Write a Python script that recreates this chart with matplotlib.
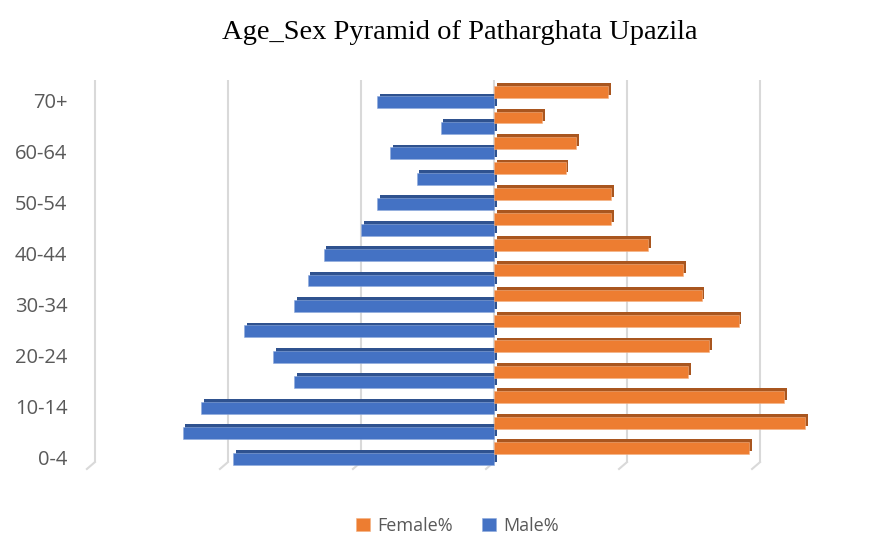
import matplotlib.pyplot as plt
import numpy as np

ages = ['0-4', '5-9', '10-14', '15-19', '20-24', '25-29', '30-34', '35-39',
        '40-44', '45-49', '50-54', '55-59', '60-64', '65-69', '70+']
male = [9.8, 11.7, 11.0, 7.5, 8.3, 9.4, 7.5, 7.0, 6.4, 5.0, 4.4, 2.9, 3.9, 2.0, 4.4]
female = [9.6, 11.7, 10.9, 7.3, 8.1, 9.2, 7.8, 7.1, 5.8, 4.4, 4.4, 2.7, 3.1, 1.8, 4.3]

orange, orange_dk = '#ED7D31', '#A9561F'
blue, blue_dk = '#4472C4', '#2F528F'
grey = '#595959'

fig = plt.figure(figsize=(8.8, 5.35), dpi=100)
ax = fig.add_axes([0.0909, 0.1121, 0.8523, 0.7477])

y = np.arange(len(ages))
h = 0.47
dx, dy = 0.1, 0.11  # fake 3d depth

# back wall gridlines with little floor ticks
grid = [-15, -10, -5, 0, 5, 10]
ax.vlines(grid, -0.2, 14.83, color='#D9D9D9', lw=1.5, zorder=0)
for g in grid:
    ax.plot([g, g - 0.3], [-0.2, -0.47], color='#D9D9D9', lw=1.5, clip_on=False, zorder=0)

m = -np.array(male)
f = np.array(female)
# depth faces first, then the fronts
ax.barh(y - 0.06 + dy, m, height=h, left=dx, color=blue_dk, zorder=2)
ax.barh(y + 0.35 + dy, f, height=h, left=dx, color=orange_dk, zorder=2)
ax.barh(y - 0.06, m, height=h, color=blue, edgecolor='#8FAADC', lw=0.4, zorder=3, label='Male%')
ax.barh(y + 0.35, f, height=h, color=orange, edgecolor='#F4B183', lw=0.4, zorder=3, label='Female%')

ax.set_xlim(-15.56, 12.63)
ax.set_ylim(-0.708, 15.02)
ax.set_xticks([])
ax.set_yticks(y[::2])
ax.set_yticklabels(ages[::2], fontsize=14.5, color=grey, family='Open Sans')
ax.tick_params(axis='y', length=0, pad=9)
for s in ax.spines.values():
    s.set_visible(False)

fig.suptitle('Age_Sex Pyramid of Patharghata Upazila', y=0.963, x=0.523,
             fontsize=20.5, family='Liberation Serif')

hs, ls = ax.get_legend_handles_labels()
fig.legend(hs[::-1], ls[::-1], loc='lower center', bbox_to_anchor=(0.52, -0.03), ncol=2,
           frameon=False, handlelength=0.8, handleheight=0.8, handletextpad=0.4,
           columnspacing=1.6, prop={'family': 'Open Sans', 'size': 13},
           labelcolor=grey)

plt.savefig('out.png')
